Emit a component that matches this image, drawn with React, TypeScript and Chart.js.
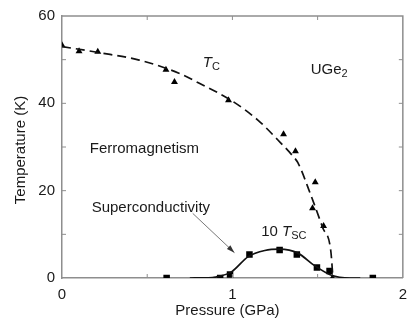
import React, { useEffect, useRef } from "react";
import { Chart, registerables } from "chart.js";

Chart.register(...registerables);

// Curie temperature T_C (triangles)
const tcPressure = [0, 0.1, 0.21, 0.61, 0.66, 0.977, 1.3, 1.37, 1.486, 1.47, 1.535, 1.587];
const tcTemp = [53.3, 51.9, 51.8, 47.7, 44.9, 40.7, 32.9, 29.0, 21.9, 16.0, 11.9, 0];
// Dashed T_C guide line
const tcLineP = [0, 0.22, 0.453, 0.686, 0.8, 0.996, 1.151, 1.267, 1.355, 1.384, 1.46, 1.53, 1.577, 1.59];
const tcLineT = [53.0, 51.6, 49.9, 46.9, 44.7, 40.6, 36.1, 31.6, 27.9, 26.4, 19.0, 11.5, 6.3, 0];
// 10 x T_SC (squares)
const scPressure = [0.614, 0.928, 0.986, 1.1, 1.277, 1.378, 1.496, 1.57, 1.824];
const scTemp = [0, 0, 0.8, 5.4, 6.4, 5.4, 2.4, 1.6, 0];
// Solid T_SC guide curve
const scLineP = [0.75, 0.85, 0.9, 0.994, 1.093, 1.19, 1.277, 1.384, 1.48, 1.577, 1.69, 1.75];
const scLineT = [0, 0.05, 0.2, 1.4, 4.9, 6.3, 6.6, 5.7, 2.9, 0.7, 0, 0];

const xTickLabels = [0, 1, 2];
const yTickLabels = [0, 20, 40, 60];

const FONT = "'Liberation Sans', Arial, Helvetica, sans-serif";
const AXIS_COLOR = "#8e8e8e";

const zip = (xs: number[], ys: number[]) => xs.map((x, i) => ({ x, y: ys[i] }));

const decorPlugin = {
  id: "decor",
  afterDraw(chart: any) {
    const { ctx, chartArea: a, scales } = chart;
    const xs = scales.x;
    const ys = scales.y;
    const px = (v: number) => xs.getPixelForValue(v);
    const py = (v: number) => ys.getPixelForValue(v);
    ctx.save();
    // frame top and right
    ctx.strokeStyle = AXIS_COLOR;
    ctx.lineWidth = 1.5;
    ctx.beginPath();
    ctx.moveTo(a.left, a.top);
    ctx.lineTo(a.right, a.top);
    ctx.lineTo(a.right, a.bottom);
    ctx.stroke();
    // inner ticks
    ctx.lineWidth = 1;
    const tl = 4;
    ctx.beginPath();
    for (let v = 0.5; v < 2; v += 0.5) {
      const x = px(v);
      ctx.moveTo(x, a.bottom);
      ctx.lineTo(x, a.bottom - tl);
      ctx.moveTo(x, a.top);
      ctx.lineTo(x, a.top + tl);
    }
    for (let v = 10; v < 60; v += 10) {
      const y = py(v);
      ctx.moveTo(a.left, y);
      ctx.lineTo(a.left + tl, y);
      ctx.moveTo(a.right, y);
      ctx.lineTo(a.right - tl, y);
    }
    ctx.stroke();

    ctx.fillStyle = "#1a1a1a";
    ctx.textBaseline = "alphabetic";
    // axis titles
    ctx.font = `15px ${FONT}`;
    ctx.textAlign = "center";
    ctx.fillText("Pressure (GPa)", (a.left + a.right) / 2 - 5, 315);
    ctx.save();
    ctx.translate(25, (a.top + a.bottom) / 2 + 3);
    ctx.rotate(-Math.PI / 2);
    ctx.fillText("Temperature (K)", 0, 0);
    ctx.restore();

    ctx.textAlign = "left";
    // T_C
    const drawSub = (main: string, sub: string, x: number, y: number, italicMain: boolean, prefix?: string) => {
      let cx = x;
      if (prefix) {
        ctx.font = `15px ${FONT}`;
        ctx.fillText(prefix, cx, y);
        cx += ctx.measureText(prefix).width;
      }
      ctx.font = `${italicMain ? "italic " : ""}15px ${FONT}`;
      ctx.fillText(main, cx, y);
      cx += ctx.measureText(main).width + (italicMain ? 0 : 0);
      ctx.font = `11px ${FONT}`;
      ctx.fillText(sub, cx, y + 3);
    };
    drawSub("T", "C", px(0.826), py(48.4), true);
    drawSub("UGe", "2", px(1.459), py(46.8), false);
    ctx.font = `15px ${FONT}`;
    ctx.fillText("Ferromagnetism", px(0.163), py(28.65));
    ctx.fillText("Superconductivity", px(0.174), py(15.2));
    drawSub("T", "SC", px(1.169), py(9.6), true, "10 ");

    // arrow
    const x1 = px(0.767), y1 = py(14.8), x2 = px(1.012), y2 = py(5.8);
    ctx.strokeStyle = "#555";
    ctx.lineWidth = 0.8;
    ctx.beginPath();
    ctx.moveTo(x1, y1);
    ctx.lineTo(x2, y2);
    ctx.stroke();
    const ang = Math.atan2(y2 - y1, x2 - x1);
    const hl = 8, hw = 2.5;
    ctx.fillStyle = "#333";
    ctx.beginPath();
    ctx.moveTo(x2, y2);
    ctx.lineTo(x2 - hl * Math.cos(ang) + hw * Math.sin(ang), y2 - hl * Math.sin(ang) - hw * Math.cos(ang));
    ctx.lineTo(x2 - hl * Math.cos(ang) - hw * Math.sin(ang), y2 - hl * Math.sin(ang) + hw * Math.cos(ang));
    ctx.closePath();
    ctx.fill();
    ctx.restore();
  },
};

export default function App() {
  const ref = useRef<HTMLCanvasElement | null>(null);
  useEffect(() => {
    document.body.style.margin = "0";
    const canvas = ref.current!;
    const chart = new Chart(canvas, {
      type: "scatter",
      data: {
        datasets: [
          {
            type: "line",
            data: zip(tcLineP, tcLineT),
            borderColor: "#111",
            borderWidth: 1.7,
            borderDash: [9, 5],
            pointRadius: 0,
            showLine: true,
            fill: false,
            cubicInterpolationMode: "monotone",
          } as any,
          {
            type: "line",
            data: zip(scLineP, scLineT),
            borderColor: "#111",
            borderWidth: 1.7,
            pointRadius: 0,
            showLine: true,
            fill: false,
            cubicInterpolationMode: "monotone",
          } as any,
          {
            data: zip(tcPressure, tcTemp),
            pointStyle: "triangle",
            pointRadius: 4,
            backgroundColor: "#000",
            borderColor: "#000",
            borderWidth: 0,
          },
          {
            data: zip(scPressure, scTemp),
            pointStyle: "rect",
            pointRadius: 4.6,
            backgroundColor: "#000",
            borderColor: "#000",
            borderWidth: 0,
          },
        ],
      },
      options: {
        animation: false,
        responsive: false,
        maintainAspectRatio: false,
        layout: { padding: { top: 10, right: 9, left: 0, bottom: 0 } },
        plugins: { legend: { display: false }, tooltip: { enabled: false } },
        scales: {
          x: {
            type: "linear",
            min: 0,
            max: 2,
            grid: { display: false, drawTicks: false },
            border: { display: true, color: AXIS_COLOR, width: 1.5 },
            ticks: {
              stepSize: 0.5,
              autoSkip: false,
              maxRotation: 0,
              padding: 8,
              color: "#1a1a1a",
              font: { family: FONT, size: 15 },
              callback: (v: any) => (xTickLabels.includes(Number(v)) ? String(v) : ""),
            },
            afterFit: (s: any) => {
              s.height = 45;
            },
          },
          y: {
            type: "linear",
            min: 0,
            max: 60,
            grid: { display: false, drawTicks: false },
            border: { display: true, color: AXIS_COLOR, width: 1.5 },
            ticks: {
              stepSize: 10,
              autoSkip: false,
              padding: 7,
              color: "#1a1a1a",
              font: { family: FONT, size: 15 },
              callback: (v: any) => (yTickLabels.includes(Number(v)) ? String(v) : ""),
            },
            afterFit: (s: any) => {
              s.width = 62;
            },
          },
        },
      },
      plugins: [decorPlugin],
    });
    return () => chart.destroy();
  }, []);
  return <canvas ref={ref} width={415} height={323} style={{ display: "block", width: 415, height: 323 }} />;
}
